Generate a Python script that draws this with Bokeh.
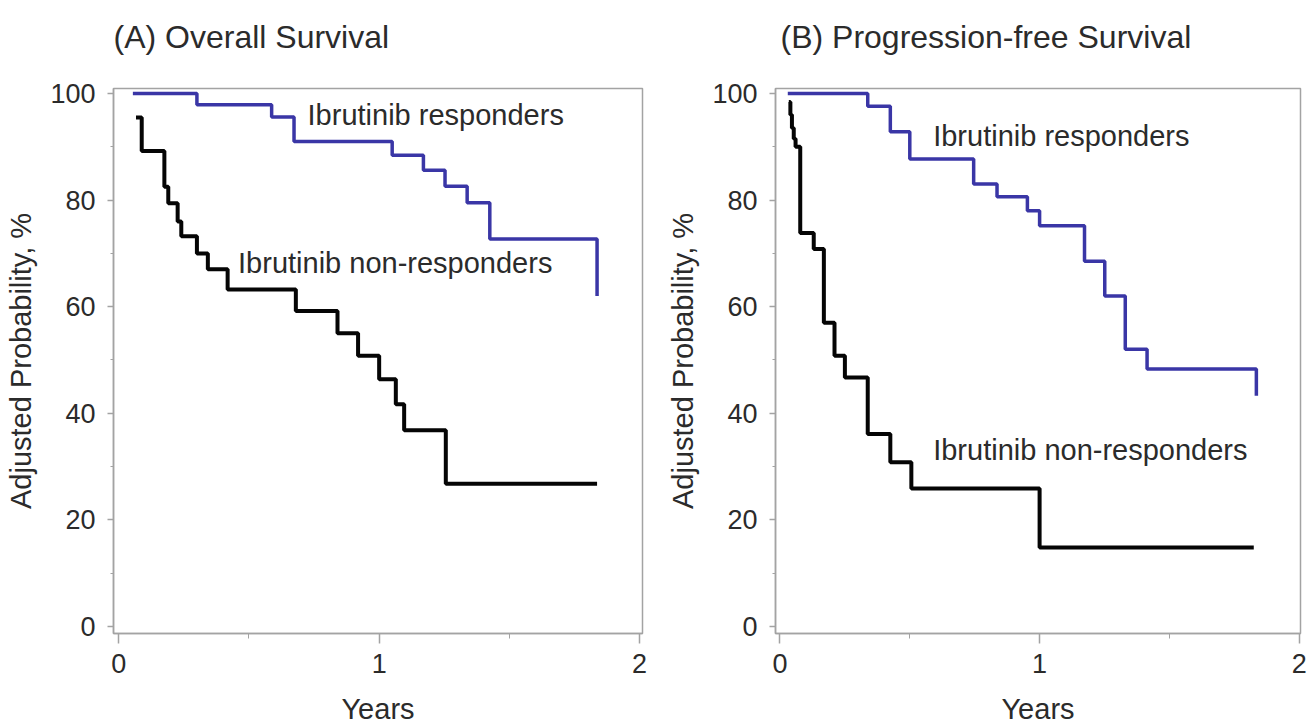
from bokeh.plotting import figure
from bokeh.layouts import row
from bokeh.models import FixedTicker, Label, Range1d, Title
from bokeh.embed import file_html
from bokeh.resources import INLINE

FONT = "Liberation Sans"
TXT = "#2b2b2b"
GRAY = "#a3a3a3"
BLUE = "#3a36a6"
BLACK = "#050505"

# ---- axis ticks ----
year_ticks = [0, 1, 2]
year_minor = [0.5, 1.5]
prob_ticks = [0, 20, 40, 60, 80, 100]
prob_minor = [10, 30, 50, 70, 90]

# ---- (A) Overall survival ----
os_resp_t = [0.054, 0.30, 0.587, 0.673, 1.05, 1.17, 1.253, 1.338, 1.425, 1.837]
os_resp_s = [100.0, 97.9, 95.6, 91.0, 88.4, 85.6, 82.6, 79.5, 72.7, 62.0]
os_non_t = [0.066, 0.088, 0.175, 0.19, 0.226, 0.24, 0.30, 0.342, 0.418, 0.68,
            0.84, 0.919, 1.0, 1.064, 1.096, 1.256, 1.837]
os_non_s = [95.5, 89.2, 82.5, 79.4, 76.0, 73.2, 70.0, 67.0, 63.2, 59.2,
            55.0, 50.8, 46.4, 41.7, 36.8, 26.8, 26.8]

# ---- (B) Progression-free survival ----
pfs_resp_t = [0.03, 0.338, 0.425, 0.50, 0.746, 0.836, 0.953, 1.0, 1.173, 1.251,
              1.33, 1.414, 1.835]
pfs_resp_s = [100.0, 97.6, 92.8, 87.7, 83.0, 80.6, 78.0, 75.2, 68.5, 62.0,
              52.0, 48.3, 43.3]
pfs_non_t = [0.034, 0.040, 0.046, 0.053, 0.060, 0.078, 0.13, 0.169, 0.21, 0.25,
             0.338, 0.425, 0.506, 1.0, 1.825]
pfs_non_s = [98.4, 96.0, 93.5, 91.5, 90.0, 73.8, 70.8, 57.0, 50.8, 46.7,
             36.1, 30.8, 25.9, 14.8, 14.8]

titles = ["(A)  Overall Survival", "(B)  Progression-free Survival"]
resp_label = "Ibrutinib responders"
non_label = "Ibrutinib non-responders"


def make_panel(title, width, bl, br, xr, title_offset, resp_t, resp_s, non_t, non_s,
               resp_pos, non_pos):
    p = figure(width=width, height=727, output_backend="svg", toolbar_location=None,
               x_range=Range1d(*xr), y_range=Range1d(-1.31, 100.93),
               min_border_left=bl, min_border_right=br,
               min_border_top=88, min_border_bottom=92)
    p.background_fill_color = "white"
    p.border_fill_color = "white"
    p.outline_line_color = GRAY
    p.outline_line_width = 1.5
    p.grid.visible = False

    # default title slot unused; spacer then the real title, stacked outward
    p.title_location = None
    p.add_layout(Title(text=" ", text_font_size="10px", standoff=21), "above")
    p.add_layout(Title(text=title, text_font=FONT, text_font_size="32px",
                       text_font_style="normal", text_color=TXT, align="left",
                       offset=title_offset, standoff=0), "above")

    xa = p.xaxis[0]
    xa.ticker = FixedTicker(ticks=year_ticks, minor_ticks=year_minor)
    xa.axis_label = "Years"
    ya = p.yaxis[0]
    ya.ticker = FixedTicker(ticks=prob_ticks, minor_ticks=prob_minor)
    ya.axis_label = "Adjusted Probability, %"

    for ax in (xa, ya):
        ax.axis_line_color = GRAY
        ax.axis_line_width = 1.5
        ax.major_tick_line_color = GRAY
        ax.minor_tick_line_color = GRAY
        ax.major_tick_line_width = 1.5
        ax.major_tick_in = 0
        ax.minor_tick_in = 0
        ax.major_label_text_font = FONT
        ax.major_label_text_font_size = "27px"
        ax.major_label_text_color = TXT
        ax.axis_label_text_font = FONT
        ax.axis_label_text_font_size = "29px"
        ax.axis_label_text_font_style = "normal"
        ax.axis_label_text_color = TXT
    xa.major_tick_out = 10
    xa.minor_tick_out = 5
    xa.major_label_standoff = 10
    xa.axis_label_standoff = 17
    ya.major_tick_out = 6
    ya.minor_tick_out = 3
    ya.major_label_standoff = 12
    ya.axis_label_standoff = 10

    p.step(resp_t, resp_s, mode="after", line_color=BLUE, line_width=3.5)
    p.step(non_t, non_s, mode="after", line_color=BLACK, line_width=4)

    for txt, (lx, ly) in ((resp_label, resp_pos), (non_label, non_pos)):
        p.add_layout(Label(x=lx, y=ly, text=txt, text_font=FONT, text_font_size="29px",
                           text_color=TXT, text_baseline="middle", text_align="left"))
    return p


pA = make_panel(titles[0], 660, 113, 18, (-0.0204, 2.0115), 0,
                os_resp_t, os_resp_s, os_non_t, os_non_s,
                (0.725, 95.9), (0.458, 68.2))
pB = make_panel(titles[1], 647, 115, 7, (-0.0173, 2.005), 5,
                pfs_resp_t, pfs_resp_s, pfs_non_t, pfs_non_s,
                (0.59, 92.1), (0.59, 33.1))

layout = row(pA, pB)
open("out.html", "w").write(file_html(layout, INLINE))
